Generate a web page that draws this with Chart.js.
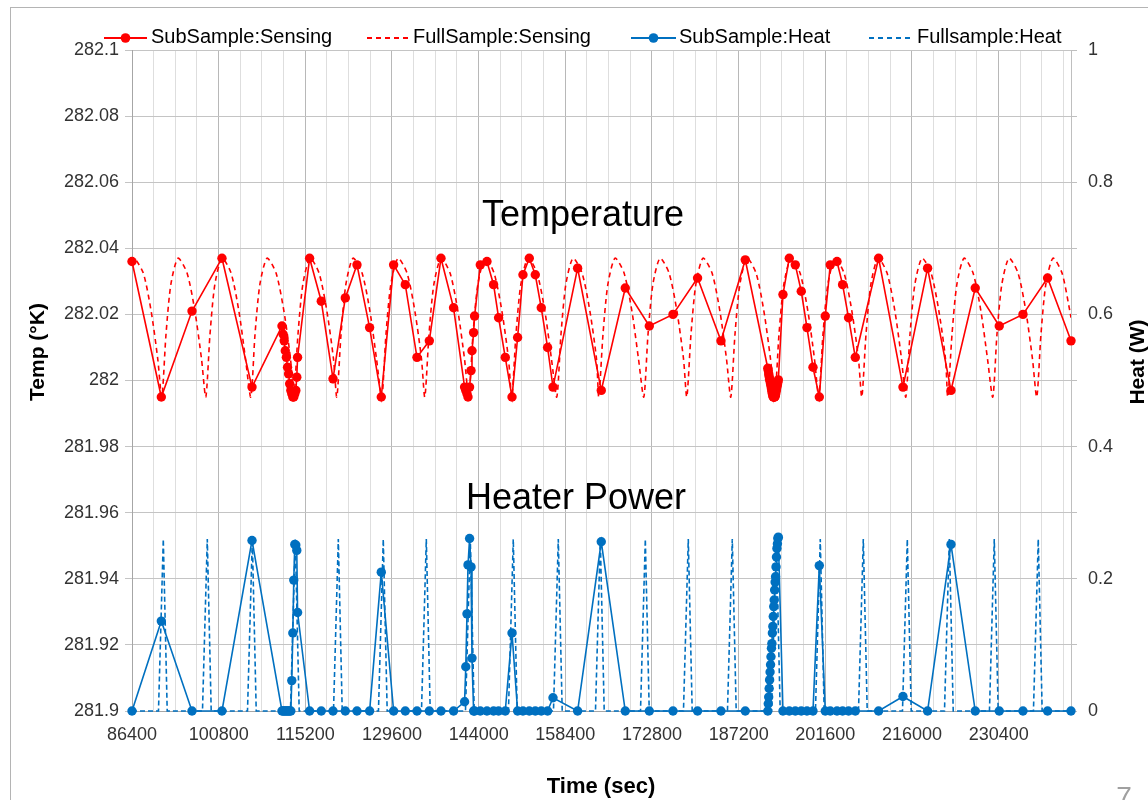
<!DOCTYPE html>
<html>
<head>
<meta charset="utf-8">
<script src="https://cdn.jsdelivr.net/npm/chart.js@4.4.1/dist/chart.umd.min.js"></script>
<style>
  html, body { margin: 0; padding: 0; background: #fff; }
</style>
</head>
<body>
<canvas id="grafico" width="1148" height="800"></canvas>
<script>
// subsampled run: time (sec), temperature (K), heater power (W)
const subTime = [
  86400, 91270, 96370, 101350, 106340,
  111320, 111510, 111690, 111870, 112050, 112240, 112420, 112600, 112790, 112950,
  113120, 113280, 113450, 113620, 113780, 113910,
  115910, 117850, 119800, 121840, 123780, 125880, 127820, 129870, 131810, 133750,
  135800, 137740, 139830,
  141660, 141860, 142060, 142230, 142490, 142730, 142890, 143160, 143320,
  144270, 145380, 146480, 147310, 148420, 149540, 150470, 151360, 152410, 153410,
  154400, 155450, 156350,
  160440, 164370, 168360, 172350, 176290, 180370, 184260, 188300,
  192040, 192120, 192190, 192270, 192340, 192420, 192500, 192570, 192650, 192720,
  192800, 192880, 192950, 193030, 193100, 193180, 193260, 193330, 193410, 193480,
  193560, 193640, 193710, 193790,
  194560, 195610, 196610, 197600, 198550, 199550, 200600, 201590, 202420, 203540,
  204470, 205460, 206580,
  210450, 214500, 218590, 222480, 226510, 230500, 234440, 238530, 242420
]
const subTemp = [
  282.036, 281.995, 282.021, 282.037, 281.998,
  282.0165, 282.014, 282.012, 282.009, 282.007, 282.004, 282.002, 281.999, 281.997, 281.996,
  281.995, 281.995, 281.996, 281.997, 282.001, 282.007,
  282.037, 282.024, 282.0005, 282.025, 282.035, 282.016, 281.995, 282.035, 282.029, 282.007,
  282.012, 282.037, 282.022,
  281.998, 281.997, 281.996, 281.995, 281.998, 282.003, 282.009, 282.0145, 282.0195,
  282.035, 282.036, 282.029, 282.019, 282.007, 281.995, 282.013, 282.032, 282.037, 282.032,
  282.022, 282.010, 281.998,
  282.034, 281.997, 282.028, 282.0165, 282.020, 282.031, 282.012, 282.0365,
  282.0037, 282.003, 282.002, 282.0012, 282.0004, 281.9997, 281.999, 281.9983, 281.9975, 281.9967,
  281.996, 281.9953, 281.995, 281.995, 281.995, 281.995, 281.9952, 281.9958, 281.9965, 281.9972,
  281.998, 281.9987, 281.9995, 282.0002,
  282.026, 282.037, 282.035, 282.027, 282.016, 282.004, 281.995, 282.0195, 282.035, 282.036,
  282.029, 282.019, 282.007,
  282.037, 281.998, 282.034, 281.997, 282.028, 282.0165, 282.020, 282.031, 282.012
]
const subHeat = [
  0, 0.136, 0, 0, 0.258,
  0, 0, 0, 0, 0, 0, 0, 0, 0, 0.046,
  0.118, 0.198, 0.252, 0.251, 0.243, 0.149,
  0, 0, 0, 0, 0, 0, 0.21, 0, 0, 0,
  0, 0, 0,
  0.014, 0.067, 0.147, 0.221, 0.261, 0.218, 0.080, 0, 0,
  0, 0, 0, 0, 0, 0.118, 0, 0, 0, 0,
  0, 0, 0.020,
  0, 0.256, 0, 0, 0, 0, 0, 0,
  0, 0.011, 0.021, 0.034, 0.047, 0.059, 0.070, 0.082, 0.095, 0.102,
  0.118, 0.128, 0.143, 0.158, 0.168, 0.183, 0.195, 0.203, 0.218, 0.233,
  0.246, 0.253, 0.261, 0.263,
  0, 0, 0, 0, 0, 0, 0.22, 0, 0, 0,
  0, 0, 0,
  0, 0.022, 0, 0.252, 0, 0, 0, 0, 0
]

// full run
const fullTempTime = [
  86400, 86780, 88280, 89580, 90680,
  91350, 92050, 92850, 94050, 95550, 96850, 97950,
  98660, 99360, 100160, 101360, 102860, 104160, 105260,
  106140, 106840, 107640, 108840, 110340, 111640, 112740,
  113280, 113980, 114780, 115980, 117480, 118780, 119880,
  120430, 121130, 121930, 123130, 124630, 125930, 127030,
  127900, 128600, 129400, 130600, 132100, 133400, 134500,
  135050, 135750, 136550, 137750, 139250, 140550, 141650,
  142360, 143060, 143860, 145060, 146560, 147860, 148960,
  149500, 150200, 151000, 152200, 153700, 155000, 156100,
  156980, 157680, 158480, 159680, 161180, 162480, 163580,
  163960, 164660, 165460, 166660, 168160, 169460, 170560,
  171440, 172140, 172940, 174140, 175640, 176940, 178040,
  178580, 179280, 180080, 181280, 182780, 184080, 185180,
  185890, 186590, 187390, 188590, 190090, 191390, 192490,
  193200, 193900, 194700, 195900, 197400, 198700, 199800,
  200510, 201210, 202010, 203210, 204710, 206010, 207110,
  207660, 208360, 209160, 210360, 211860, 213160, 214260,
  214970, 215670, 216470, 217670, 219170, 220470, 221570,
  221950, 222650, 223450, 224650, 226150, 227450, 228550,
  229420, 230120, 230920, 232120, 233620, 234920, 236020,
  236730, 237430, 238230, 239430, 240930, 242230, 242420
]
const fullTemp = [
  282.0355, 282.037, 282.0325, 282.021, 282.0065,
  281.995, 282.014, 282.029, 282.037, 282.0325, 282.021, 282.0065,
  281.995, 282.014, 282.029, 282.037, 282.0325, 282.021, 282.0065,
  281.995, 282.014, 282.029, 282.037, 282.0325, 282.021, 282.0065,
  281.995, 282.014, 282.029, 282.037, 282.0325, 282.021, 282.0065,
  281.995, 282.014, 282.029, 282.037, 282.0325, 282.021, 282.0065,
  281.995, 282.014, 282.029, 282.037, 282.0325, 282.021, 282.0065,
  281.995, 282.014, 282.029, 282.037, 282.0325, 282.021, 282.0065,
  281.995, 282.014, 282.029, 282.037, 282.0325, 282.021, 282.0065,
  281.995, 282.014, 282.029, 282.037, 282.0325, 282.021, 282.0065,
  281.995, 282.014, 282.029, 282.037, 282.0325, 282.021, 282.0065,
  281.995, 282.014, 282.029, 282.037, 282.0325, 282.021, 282.0065,
  281.995, 282.014, 282.029, 282.037, 282.0325, 282.021, 282.0065,
  281.995, 282.014, 282.029, 282.037, 282.0325, 282.021, 282.0065,
  281.995, 282.014, 282.029, 282.037, 282.0325, 282.021, 282.0065,
  281.995, 282.014, 282.029, 282.037, 282.0325, 282.021, 282.0065,
  281.995, 282.014, 282.029, 282.037, 282.0325, 282.021, 282.0065,
  281.995, 282.014, 282.029, 282.037, 282.0325, 282.021, 282.0065,
  281.995, 282.014, 282.029, 282.037, 282.0325, 282.021, 282.0065,
  281.995, 282.014, 282.029, 282.037, 282.0325, 282.021, 282.0065,
  281.995, 282.014, 282.029, 282.037, 282.0325, 282.021, 282.0065,
  281.995, 282.014, 282.029, 282.037, 282.0325, 282.021, 282.019
]
const fullHeatTime = [
  86400,
  90800, 91600, 92250,
  98110, 98910, 99560,
  105590, 106390, 107040,
  112730, 113530, 114180,
  119880, 120680, 121330,
  127350, 128150, 128800,
  134500, 135300, 135950,
  141810, 142610, 143260,
  148950, 149750, 150400,
  156430, 157230, 157880,
  163410, 164210, 164860,
  170890, 171690, 172340,
  178030, 178830, 179480,
  185340, 186140, 186790,
  192650, 193450, 194100,
  199960, 200760, 201410,
  207110, 207910, 208560,
  214420, 215220, 215870,
  221400, 222200, 222850,
  228870, 229670, 230320,
  236180, 236980, 237630,
  242420
]
const fullHeat = [
  0,
  0, 0.26, 0,  0, 0.26, 0,  0, 0.26, 0,  0, 0.26, 0,  0, 0.26, 0,
  0, 0.26, 0,  0, 0.26, 0,  0, 0.26, 0,  0, 0.26, 0,  0, 0.26, 0,
  0, 0.26, 0,  0, 0.26, 0,  0, 0.26, 0,  0, 0.26, 0,  0, 0.26, 0,
  0, 0.26, 0,  0, 0.26, 0,  0, 0.26, 0,  0, 0.26, 0,  0, 0.26, 0,
  0, 0.26, 0,
  0
]

const xTickLabels = [86400, 100800, 115200, 129600, 144000, 158400, 172800, 187200, 201600, 216000, 230400]
const tempTicks = [281.9, 281.92, 281.94, 281.96, 281.98, 282, 282.02, 282.04, 282.06, 282.08, 282.1]
const heatTicks = [0, 0.1, 0.2, 0.3, 0.4, 0.5, 0.6, 0.7, 0.8, 0.9, 1]
const heatTickLabels = [0, 0.2, 0.4, 0.6, 0.8, 1]
const legendLabels = ["SubSample:Sensing", "FullSample:Sensing", "SubSample:Heat", "Fullsample:Heat"]

const RED = "#ff0000"
const BLUE = "#0070c0"
const FONT = "'Liberation Sans', Arial, sans-serif"

const pts = (xs, ys) => xs.map((x, i) => ({ x: x, y: ys[i] }))

function iconeLegenda(c, x0, x1, y, cor, tracejado, ponto){
  c.save()
  c.strokeStyle = cor
  c.lineWidth = 2
  if (tracejado) c.setLineDash([5, 4])
  c.beginPath()
  c.moveTo(x0, y)
  c.lineTo(x1, y)
  c.stroke()
  if (ponto){
    c.setLineDash([])
    c.fillStyle = cor
    c.beginPath()
    c.arc((x0 + x1) / 2, y, 4.8, 0, Math.PI * 2)
    c.fill()
  }
  c.restore()
}

const textos = {
  id: "textos",
  beforeDraw(chart){
    const c = chart.ctx
    c.save()
    c.fillStyle = "#fff"
    c.fillRect(0, 0, chart.width, chart.height)
    c.strokeStyle = "#b4b4b4"
    c.lineWidth = 1
    c.strokeRect(10.5, 7.5, 1300, 900)
    c.restore()
  },
  afterDraw(chart){
    const c = chart.ctx
    c.save()
    c.fillStyle = "#000"
    c.textAlign = "center"
    c.textBaseline = "middle"
    c.font = "36px " + FONT
    c.fillText("Temperature", 583, 216)
    c.fillText("Heater Power", 576, 499)

    c.font = "bold 22px " + FONT
    c.fillText("Time (sec)", 601, 787)

    c.font = "bold 21px " + FONT
    c.save()
    c.translate(38, 352)
    c.rotate(-Math.PI / 2)
    c.fillText("Temp (°K)", 0, 0)
    c.restore()
    c.save()
    c.translate(1138, 362)
    c.rotate(-Math.PI / 2)
    c.fillText("Heat (W)", 0, 0)
    c.restore()

    // legend
    const y = 37
    iconeLegenda(c, 104, 147, y + 1, RED, false, true)
    iconeLegenda(c, 367, 409, y + 1, RED, true, false)
    iconeLegenda(c, 631, 676, y + 1, BLUE, false, true)
    iconeLegenda(c, 869, 911, y + 1, BLUE, true, false)
    c.font = "20px " + FONT
    c.textAlign = "left"
    c.fillStyle = "#000"
    c.fillText(legendLabels[0], 151, y)
    c.fillText(legendLabels[1], 413, y)
    c.fillText(legendLabels[2], 679, y)
    c.fillText(legendLabels[3], 917, y)

    c.fillStyle = "#a0a0a0"
    c.font = "28px " + FONT
    c.textAlign = "center"
    c.fillText("7", 1124, 798)
    c.restore()
  }
}

const ctx = document.getElementById("grafico").getContext("2d")
new Chart(ctx, {
  type: "line",
  data: {
    datasets: [
      {
        label: legendLabels[0],
        data: pts(subTime, subTemp),
        yAxisID: "yTemp",
        borderColor: RED,
        backgroundColor: RED,
        borderWidth: 1.6,
        pointRadius: 4.7,
        pointBorderWidth: 0,
        tension: 0,
        clip: false,
      },
      {
        label: legendLabels[2],
        data: pts(subTime, subHeat),
        yAxisID: "yHeat",
        borderColor: BLUE,
        backgroundColor: BLUE,
        borderWidth: 1.6,
        pointRadius: 4.7,
        pointBorderWidth: 0,
        tension: 0,
        clip: false,
      },
      {
        label: legendLabels[1],
        data: pts(fullTempTime, fullTemp),
        yAxisID: "yTemp",
        borderColor: RED,
        borderWidth: 1.6,
        borderDash: [5, 4],
        pointRadius: 0,
        tension: 0.25,
      },
      {
        label: legendLabels[3],
        data: pts(fullHeatTime, fullHeat),
        yAxisID: "yHeat",
        borderColor: BLUE,
        borderWidth: 1.6,
        borderDash: [5, 3],
        pointRadius: 0,
        tension: 0,
        clip: false,
      },
    ],
  },
  options: {
    responsive: false,
    animation: false,
    layout: { padding: { top: 50, left: 0, right: 0, bottom: 0 } },
    plugins: {
      legend: { display: false },
      tooltip: { enabled: false },
    },
    scales: {
      x: {
        type: "linear",
        min: 86400,
        max: 242420,
        afterBuildTicks: s => {
          const t = []
          for (let v = 86400; v <= 242420; v += 3600) t.push({ value: v })
          s.ticks = t
        },
        afterFit: s => { s.height = 89 },
        grid: {
          color: g => xTickLabels.includes(g.tick && g.tick.value) ? "#b8b8b8" : "#dedede",
          drawTicks: false,
        },
        border: { color: "#a6a6a6" },
        ticks: {
          autoSkip: false,
          maxRotation: 0,
          padding: 13,
          color: "#333",
          font: { family: FONT, size: 18 },
          callback: v => xTickLabels.includes(v) ? String(v) : "",
        },
      },
      yTemp: {
        position: "left",
        min: 281.9,
        max: 282.1,
        afterBuildTicks: s => { s.ticks = tempTicks.map(v => ({ value: v })) },
        afterFit: s => { s.width = 132 },
        grid: { color: "#c4c4c4", tickLength: 7 },
        border: { color: "#a6a6a6" },
        ticks: {
          padding: 6,
          color: "#333",
          font: { family: FONT, size: 18 },
          callback: v => String(v),
        },
      },
      yHeat: {
        position: "right",
        min: 0,
        max: 1,
        afterBuildTicks: s => { s.ticks = heatTicks.map(v => ({ value: v })) },
        afterFit: s => { s.width = 77 },
        grid: { drawOnChartArea: false, color: "#bfbfbf", tickLength: 6 },
        border: { color: "#bfbfbf" },
        ticks: {
          padding: 11,
          color: "#333",
          font: { family: FONT, size: 18 },
          callback: v => heatTickLabels.includes(v) ? String(v) : "",
        },
      },
    },
  },
  plugins: [textos],
})
</script>
</body>
</html>
